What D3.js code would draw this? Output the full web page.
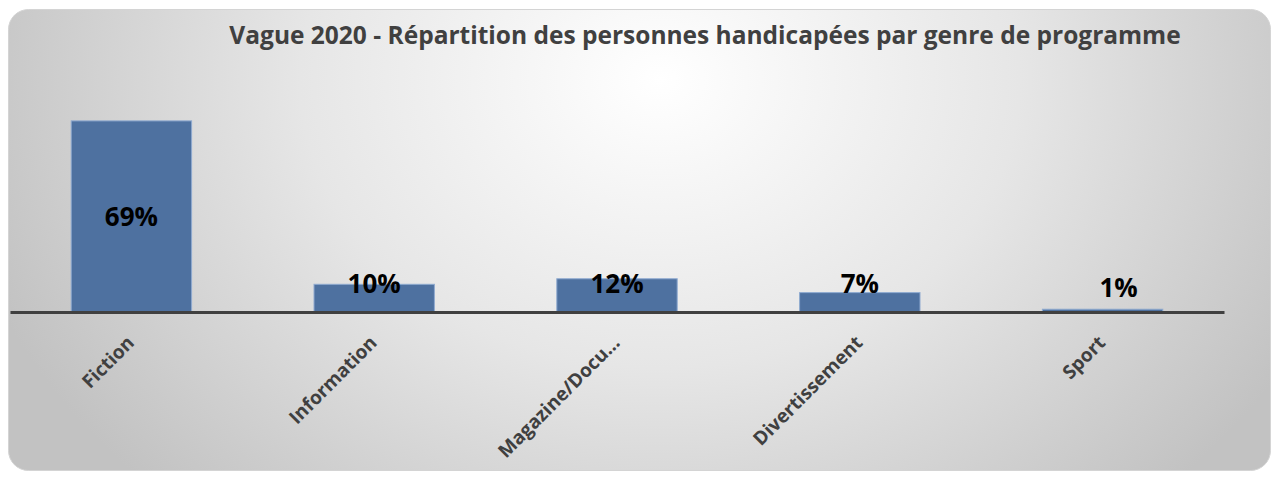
<!DOCTYPE html>
<html><head><meta charset="utf-8">
<script src="https://cdn.jsdelivr.net/npm/d3@7"></script>
<style>body{margin:0;background:#fff}svg{display:block}</style>
</head><body>
<svg id="chart" width="1278" height="477"></svg>
<script>
const categories = ["Fiction","Information","Magazine/Docu…","Divertissement","Sport"];
const values = [0.69,0.10,0.12,0.07,0.01];
const labels = ["69%","10%","12%","7%","1%"];
const title = "Vague 2020 - Répartition des personnes handicapées par genre de programme";

const svg = d3.select("#chart");
const defs = svg.append("defs");
const grad = defs.append("radialGradient").attr("id","bg")
  .attr("gradientUnits","userSpaceOnUse").attr("cx",660).attr("cy",80).attr("r",720)
  .attr("gradientTransform","translate(660,80) scale(1,0.8) translate(-660,-80)");
grad.append("stop").attr("offset","0%").attr("stop-color","#ffffff");
grad.append("stop").attr("offset","50%").attr("stop-color","#e6e6e6");
grad.append("stop").attr("offset","100%").attr("stop-color","#c2c2c2");

svg.append("rect").attr("x",8.5).attr("y",9.5).attr("width",1262).attr("height",461)
  .attr("rx",20).attr("ry",20).attr("fill","url(#bg)").attr("stroke","#d4d4d4").attr("stroke-width",1);

const x = d3.scaleBand().domain(categories).range([10,1224]).paddingInner(0.5).paddingOuter(0.25);
const y = d3.scaleLinear().domain([0,0.8]).range([312,90.4]);

svg.append("text").attr("x",705).attr("y",44).attr("text-anchor","middle")
  .attr("font-family","Open Sans").attr("font-weight","bold").attr("font-size",24.5)
  .attr("fill","#404040").text(title);

svg.selectAll("rect.bar").data(values).join("rect").attr("class","bar")
  .attr("x",(d,i)=>x(categories[i])+0.5).attr("width",x.bandwidth()-1)
  .attr("y",d=>y(d)).attr("height",d=>y(0)-y(d))
  .attr("fill","#4e71a0").attr("stroke","#8faad0").attr("stroke-width",1);

const xAxis = svg.append("g").attr("transform",`translate(0,${y(0)})`)
  .call(d3.axisBottom(x).tickSize(0).tickPadding(0));
xAxis.select(".domain").attr("stroke","#404040").attr("stroke-width",3);
xAxis.selectAll(".tick text")
  .attr("font-family","Open Sans").attr("font-weight","bold").attr("font-size",19)
  .attr("fill","#404040").attr("text-anchor","end").attr("dy",null).attr("y",null)
  .attr("transform","translate(4,32) rotate(-45)");

svg.selectAll("text.val").data(values).join("text").attr("class","val")
  .attr("x",(d,i)=>x(categories[i])+x.bandwidth()/2 + (i===4?16:0))
  .attr("y",(d,i)=> (y(0)-y(d))>60 ? (y(d)+y(0))/2+10 : (i===4? y(0)-15 : y(0)-19))
  .attr("text-anchor","middle").attr("font-family","Open Sans").attr("font-weight","bold")
  .attr("font-size",26).attr("fill","#000").text((d,i)=>labels[i]);
</script>
</body></html>
